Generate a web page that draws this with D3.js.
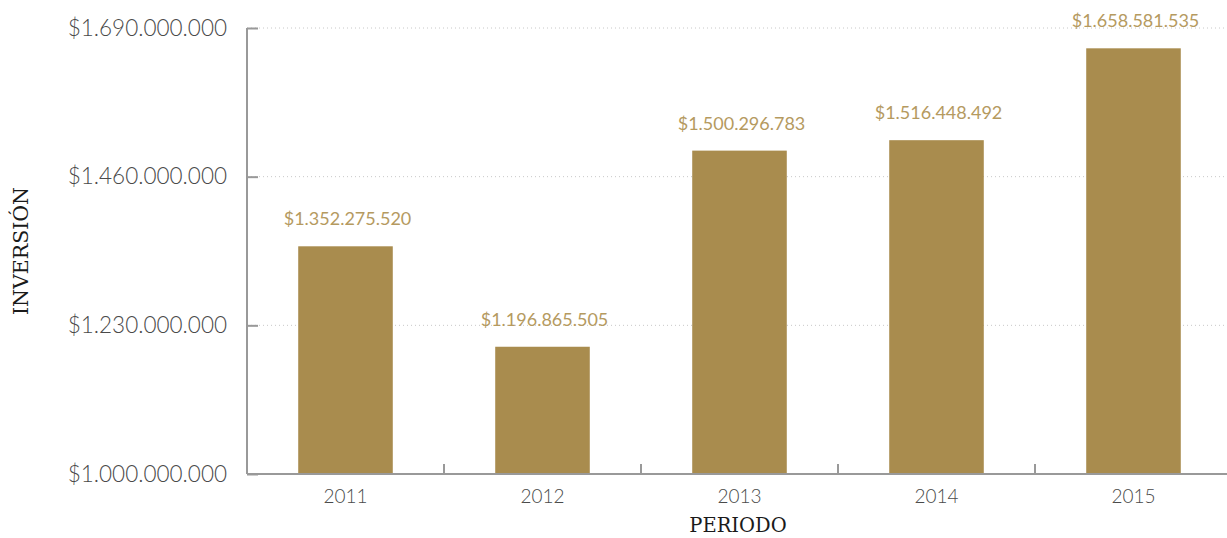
<!DOCTYPE html>
<meta charset="utf-8">
<html>
<head>
<script src="https://d3js.org/d3.v7.min.js"></script>
<style>
  body { margin: 0; background: #fff; }
  .tick text { font-family: Lato, sans-serif; font-weight: 300; fill: #4a4a4a; }
</style>
</head>
<body>
<script>
var years = ["2011", "2012", "2013", "2014", "2015"];
var inversion = [1352275520, 1196865505, 1500296783, 1516448492, 1658581535];
var yTicks = [1000000000, 1230000000, 1460000000, 1690000000];

var width = 1227, height = 538,
    margin = {top: 28, right: -5, bottom: 64, left: 247};

var svg = d3.select("body").append("svg")
    .attr("width", width)
    .attr("height", height);

var x = d3.scaleBand().domain(years)
    .range([margin.left, width - margin.right])
    .paddingInner(0.52).paddingOuter(0.26);
var y = d3.scaleLinear().domain([1000000000, 1690000000])
    .range([height - margin.bottom, margin.top]);

// miles con punto
var fmt = function(v){ return "$" + d3.format(",")(v).replace(/,/g, "."); };

// gridlines punteadas
svg.append("g").selectAll("line")
    .data(yTicks.slice(1))
    .enter().append("line")
    .attr("x1", margin.left).attr("x2", width)
    .attr("y1", function(d){ return y(d); })
    .attr("y2", function(d){ return y(d); })
    .attr("stroke", "#c8c8c8")
    .attr("stroke-width", 1)
    .attr("stroke-dasharray", "1,3");

// barras
svg.append("g").selectAll("rect")
    .data(years)
    .enter().append("rect")
    .attr("x", function(d){ return x(d); })
    .attr("width", x.bandwidth())
    .attr("y", function(d, i){ return y(inversion[i]); })
    .attr("height", function(d, i){ return y(1000000000) - y(inversion[i]); })
    .attr("fill", "#a98c4e");

// etiquetas de valor
svg.append("g").selectAll("text")
    .data(years)
    .enter().append("text")
    .attr("x", function(d){ return x(d) + x.bandwidth() / 2 + 2; })
    .attr("y", function(d, i){ return y(inversion[i]) - 21; })
    .attr("text-anchor", "middle")
    .attr("font-family", "Lato, sans-serif")
    .attr("font-size", "18px")
    .attr("fill", "#b59a5f")
    .text(function(d, i){ return fmt(inversion[i]); });

// eje y
var yAxis = svg.append("g")
    .attr("transform", "translate(" + margin.left + ",0)")
    .call(d3.axisLeft(y).tickValues(yTicks).tickSize(-11).tickPadding(20).tickFormat(fmt));
yAxis.selectAll("line, path").attr("stroke", "#999").attr("stroke-width", 2);
yAxis.select(".domain").attr("d", "M0," + margin.top + "V" + y(1000000000));
yAxis.selectAll("text").attr("font-size", "22.5px");

// eje x
var xBand = d3.scaleLinear().domain([0, years.length]).range(x.range());
var xAxis = svg.append("g")
    .attr("transform", "translate(0," + y(1000000000) + ")");
xAxis.append("line")
    .attr("x1", margin.left).attr("x2", width)
    .attr("stroke", "#999").attr("stroke-width", 2);
xAxis.selectAll(".sep")
    .data(d3.range(years.length + 1))
    .enter().append("line")
    .attr("class", "sep")
    .attr("x1", function(d){ return xBand(d); })
    .attr("x2", function(d){ return xBand(d); })
    .attr("y1", 0).attr("y2", -10)
    .attr("stroke", "#999").attr("stroke-width", 2);
xAxis.selectAll(".lbl")
    .data(years)
    .enter().append("text")
    .attr("x", function(d){ return x(d) + x.bandwidth() / 2; })
    .attr("y", 29)
    .attr("text-anchor", "middle")
    .attr("font-family", "Lato, sans-serif")
    .attr("font-weight", 300)
    .attr("font-size", "19px")
    .attr("fill", "#4a4a4a")
    .text(function(d){ return d; });

// titulos de ejes
svg.append("text")
    .attr("transform", "translate(28," + ((margin.top + y(1000000000)) / 2) + ") rotate(-90)")
    .attr("text-anchor", "middle")
    .attr("font-family", "DejaVu Serif, serif")
    .attr("font-size", "20.5px")
    .attr("fill", "#1a1a1a")
    .text("INVERSIÓN");

svg.append("text")
    .attr("x", 738)
    .attr("y", 532)
    .attr("text-anchor", "middle")
    .attr("font-family", "DejaVu Serif, serif")
    .attr("font-size", "19.5px")
    .attr("fill", "#1a1a1a")
    .text("PERIODO");
</script>
</body>
</html>
